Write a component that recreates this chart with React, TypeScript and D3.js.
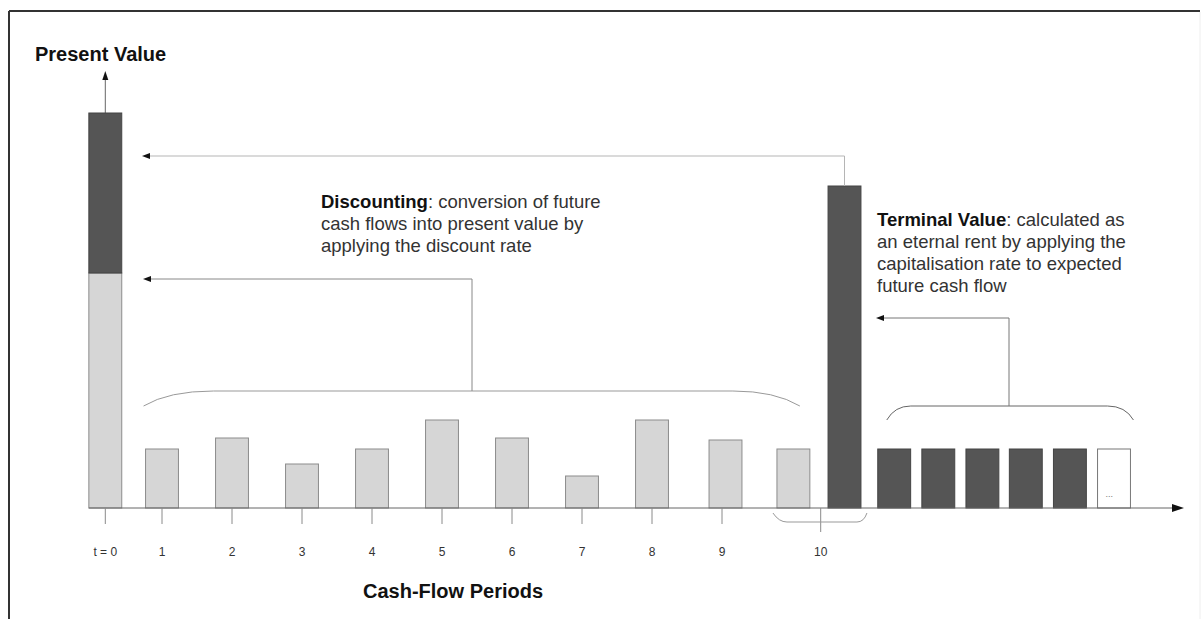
import React from "react";
import * as d3 from "d3";

// ---------- data ----------
const periodLabels = ["t = 0", "1", "2", "3", "4", "5", "6", "7", "8", "9", "10"];
const periodTickAt = [0.19, 1, 2, 3, 4, 5, 6, 7, 8, 9, 10.41];

const cashFlows = [5.9, 7.0, 4.4, 5.9, 8.8, 7.0, 3.2, 8.8, 6.8, 5.9];
const cashFlowAt = [1, 2, 3, 4, 5, 6, 7, 8, 9.05, 10.02];

const terminalValue = 32.2;
const terminalAt = 10.75;

const futureFlows = [5.9, 5.9, 5.9, 5.9, 5.9, 5.9];
const futureAt = [11.46, 12.09, 12.72, 13.34, 13.97, 14.6];
const futureIsPlaceholder = [false, false, false, false, false, true];

const presentValueParts = [
  { name: "pv of cash flows", value: 23.5 },
  { name: "pv of terminal value", value: 16.0 },
];
const presentValueAt = 0.19;

const W = 1203;
const H = 619;
const FONT = "'Liberation Sans', Arial, Helvetica, sans-serif";
const LIGHT = "#d6d6d6";
const LIGHT_STROKE = "#8c8c8c";
const DARK = "#555555";
const DARK_STROKE = "#444444";
const LINE = "#b5b5b5";

function ArrowLeft({ x, y }: { x: number; y: number }) {
  return <path d={`M${x},${y} L${x + 8},${y - 3} L${x + 8},${y + 3} Z`} fill="#111" />;
}

export default function App() {
  const x = d3.scaleLinear().domain([1, 10]).range([162, 792]);
  const y = d3.scaleLinear().domain([0, 40]).range([508, 108]);
  const bw = x(1.47) - x(1);
  const base = y(0);

  const pvStack = d3.stack<any>().keys(presentValueParts.map((d) => d.name))([
    Object.fromEntries(presentValueParts.map((d) => [d.name, d.value])),
  ]);
  const pvTop = y(d3.sum(presentValueParts, (d) => d.value));

  const cfBracketL = x(cashFlowAt[0]) - bw / 2 - 2;
  const cfBracketR = x(cashFlowAt[cashFlowAt.length - 1]) + bw / 2 - 10;
  const cfMid = 472;
  const futL = x(futureAt[0]) - bw / 2 + 9;
  const futR = x(futureAt[futureAt.length - 1]) + bw / 2 + 3;
  const futMid = 1009;

  return (
    <svg width={W} height={H} style={{ position: "absolute", left: 0, top: 0, background: "#fff" }} fontFamily={FONT}>
      {/* frame */}
      <line x1={9} y1={11} x2={1200} y2={11} stroke="#333" strokeWidth={2} />
      <line x1={9} y1={11} x2={9} y2={H} stroke="#333" strokeWidth={2} />
      <line x1={1200} y1={12} x2={1200} y2={H} stroke="#eeeeee" strokeWidth={1} />

      {/* y axis arrow */}
      <line x1={x(presentValueAt)} y1={pvTop} x2={x(presentValueAt)} y2={78} stroke="#666" strokeWidth={1} />
      <path d={`M${x(presentValueAt)},71 L${x(presentValueAt) - 3},80 L${x(presentValueAt) + 3},80 Z`} fill="#111" />
      <text x={35} y={61} fontSize={20} fontWeight="bold" fill="#111">Present Value</text>

      {/* present value stacked bar */}
      {pvStack.map((layer, i) => (
        <rect
          key={layer.key}
          x={x(presentValueAt) - bw / 2}
          y={y(layer[0][1])}
          width={bw}
          height={y(layer[0][0]) - y(layer[0][1])}
          fill={i === 0 ? LIGHT : DARK}
          stroke={i === 0 ? LIGHT_STROKE : DARK_STROKE}
          strokeWidth={1}
        />
      ))}

      {/* cash flow bars */}
      {cashFlows.map((v, i) => (
        <rect key={"cf" + i} x={x(cashFlowAt[i]) - bw / 2} y={y(v)} width={bw} height={base - y(v)}
          fill={LIGHT} stroke={LIGHT_STROKE} strokeWidth={1} />
      ))}

      {/* terminal value bar */}
      <rect x={x(terminalAt) - bw / 2} y={y(terminalValue)} width={bw} height={base - y(terminalValue)}
        fill={DARK} stroke={DARK_STROKE} strokeWidth={1} />

      {/* future flows */}
      {futureFlows.map((v, i) => (
        <g key={"ff" + i}>
          <rect x={x(futureAt[i]) - bw / 2} y={y(v)} width={bw} height={base - y(v)}
            fill={futureIsPlaceholder[i] ? "#fff" : DARK}
            stroke={futureIsPlaceholder[i] ? "#777" : DARK_STROKE} strokeWidth={1} />
          {futureIsPlaceholder[i] && (
            <text x={x(futureAt[i]) - bw / 2 + 8} y={base - 11} fontSize={9} fill="#777">...</text>
          )}
        </g>
      ))}

      {/* x axis */}
      <line x1={x(presentValueAt) - bw / 2} y1={base} x2={1172} y2={base} stroke="#666" strokeWidth={1} />
      <path d={`M1184,${base} L1172,${base - 4} L1172,${base + 4} Z`} fill="#111" />

      {/* ticks + labels */}
      {periodLabels.map((lab, i) => {
        const last = i === periodLabels.length - 1;
        return (
          <g key={"t" + i}>
            <line x1={x(periodTickAt[i])} y1={base} x2={x(periodTickAt[i])} y2={last ? base + 24 : base + 16}
              stroke="#8a8a8a" strokeWidth={1} />
            <text x={x(periodTickAt[i])} y={556} fontSize={12} textAnchor="middle" fill="#333">{lab}</text>
          </g>
        );
      })}
      <text x={363} y={598} fontSize={20} fontWeight="bold" fill="#111">Cash-Flow Periods</text>

      {/* bracket under period 10 */}
      <path
        d={`M${x(cashFlowAt[9]) - bw / 2 - 4},${base + 5} Q${x(cashFlowAt[9]) - bw / 2 + 2},${base + 14} ${x(cashFlowAt[9]) - bw / 2 + 10},${base + 14} L${x(terminalAt) + bw / 2 - 4},${base + 14} Q${x(terminalAt) + bw / 2 + 3},${base + 14} ${x(terminalAt) + bw / 2 + 6},${base + 5}`}
        fill="none" stroke="#999" strokeWidth={1}
      />

      {/* discounting bracket + arrow */}
      <path
        d={`M${cfBracketL},406 Q${cfBracketL + 25},391 ${cfBracketL + 70},391 L${cfBracketR - 67},391 Q${cfBracketR - 25},391 ${cfBracketR},406`}
        fill="none" stroke="#999" strokeWidth={1}
      />
      <polyline points={`${cfMid},391 ${cfMid},279 150,279`} fill="none" stroke="#888" strokeWidth={1} />
      <ArrowLeft x={143} y={279} />

      {/* terminal value to present value arrow */}
      <polyline points={`${x(terminalAt)},${y(terminalValue)} ${x(terminalAt)},156 150,156`} fill="none" stroke={LINE} strokeWidth={1} />
      <ArrowLeft x={142} y={156} />

      {/* future flows bracket + arrow */}
      <path
        d={`M${futL},420 Q${futL + 8},406 ${futL + 24},406 L${futR - 26},406 Q${futR - 8},406 ${futR},420`}
        fill="none" stroke="#666" strokeWidth={1}
      />
      <polyline points={`${futMid},406 ${futMid},318 884,318`} fill="none" stroke="#777" strokeWidth={1} />
      <ArrowLeft x={876} y={318} />

      {/* annotations */}
      <text x={321} y={208} fontSize={18.5} fill="#333">
        <tspan fontWeight="bold" fill="#111">Discounting</tspan>: conversion of future
      </text>
      <text x={321} y={230} fontSize={18.5} fill="#333">cash flows into present value by</text>
      <text x={321} y={252} fontSize={18.5} fill="#333">applying the discount rate</text>

      <text x={877} y={226} fontSize={18.5} fill="#333">
        <tspan fontWeight="bold" fill="#111">Terminal Value</tspan>: calculated as
      </text>
      <text x={877} y={248} fontSize={18.5} fill="#333">an eternal rent by applying the</text>
      <text x={877} y={270} fontSize={18.5} fill="#333">capitalisation rate to expected</text>
      <text x={877} y={292} fontSize={18.5} fill="#333">future cash flow</text>
    </svg>
  );
}
